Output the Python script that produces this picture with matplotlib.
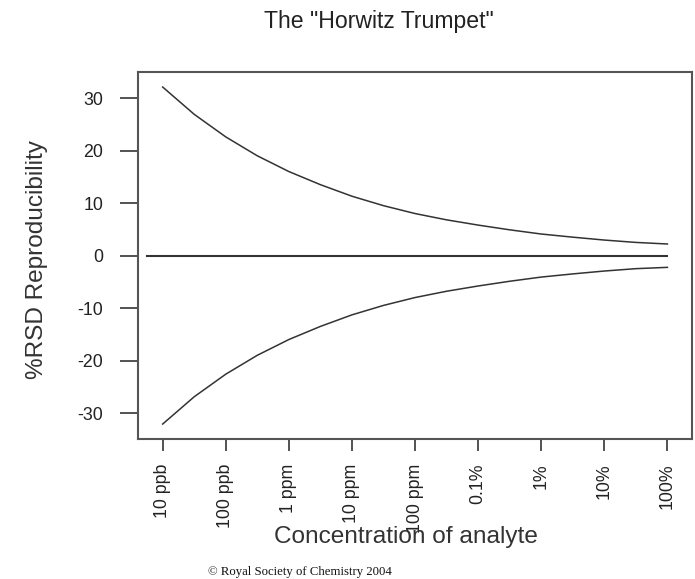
import matplotlib
matplotlib.use('Agg')
import matplotlib.pyplot as plt

plt.rcParams['font.family'] = ['Liberation Sans', 'DejaVu Sans']

# log10 of concentration (mass fraction), read at half-decade steps
log_conc = [-8, -7.5, -7, -6.5, -6, -5.5, -5, -4.5, -4, -3.5, -3, -2.5, -2, -1.5, -1, -0.5, 0]
rsd_upper = [32.1, 26.9, 22.6, 19.0, 16.0, 13.5, 11.3, 9.5, 8.0, 6.8, 5.8, 4.9, 4.1, 3.5, 2.95, 2.5, 2.2]
rsd_lower = [-32.1, -26.9, -22.6, -19.0, -16.0, -13.5, -11.3, -9.5, -8.0, -6.8, -5.8, -4.9, -4.1, -3.5, -2.95, -2.5, -2.25]
zero_x = [-8.25, 0]
zero_y = [0, 0]

tick_pos = [-8, -7, -6, -5, -4, -3, -2, -1, 0]
tick_labels = ['10 ppb', '100 ppb', '1 ppm', '10 ppm', '100 ppm', '0.1%', '1%', '10%', '100%']
y_ticks = [30, 20, 10, 0, -10, -20, -30]

fig = plt.figure(figsize=(6.95, 5.79), dpi=100)
ax = fig.add_axes([0.199, 0.2413, 0.7967, 0.6347])

line_col = '#333333'
ax.plot(log_conc, rsd_upper, color=line_col, lw=1.1)
ax.plot(log_conc, rsd_lower, color=line_col, lw=1.1)
ax.plot(zero_x, zero_y, color=line_col, lw=1.5)

ax.set_xlim(-8.386, 0.39)
ax.set_ylim(-35, 35)

ax.set_xticks(tick_pos)
ax.set_xticklabels(tick_labels, rotation=90, fontsize=12.8, color='#222222')
ax.set_yticks(y_ticks)
ax.set_yticklabels([str(v) for v in y_ticks], fontsize=12.8, color='#222222')

ax.tick_params(axis='x', length=8.6, width=1.3, color='#444444', pad=9)
ax.tick_params(axis='y', length=12.7, width=1.3, color='#444444', pad=12.5)

for sp in ax.spines.values():
    sp.set_color('#555555')
    sp.set_linewidth(1.5)

ax.set_ylabel('%RSD Reproducibility', fontsize=17.6, color='#333333')
ax.yaxis.set_label_coords(-0.163, 0.49)
ax.set_xlabel('Concentration of analyte', fontsize=17.6, color='#333333')
ax.xaxis.set_label_coords(0.4835, -0.236)

fig.text(379 / 695, 1 - 28 / 579, 'The "Horwitz Trumpet"', ha='center', va='baseline',
         fontsize=16.6, color='#222222')
fig.text(208 / 695, 1 - 575 / 579, '\u00a9 Royal Society of Chemistry 2004', ha='left',
         va='baseline', fontsize=9.2, family='Liberation Serif', color='#111111')

fig.savefig('out.png', dpi=100)
